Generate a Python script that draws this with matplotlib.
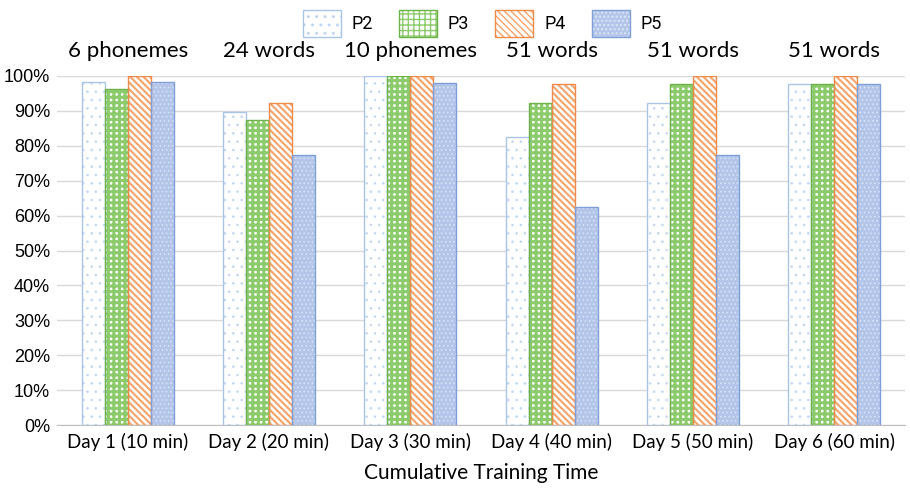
import matplotlib.pyplot as plt
import numpy as np
from matplotlib.patches import Patch
from matplotlib.ticker import PercentFormatter

days = ["Day 1 (10 min)", "Day 2 (20 min)", "Day 3 (30 min)",
        "Day 4 (40 min)", "Day 5 (50 min)", "Day 6 (60 min)"]
tasks = ["6 phonemes", "24 words", "10 phonemes", "51 words", "51 words", "51 words"]
names = ["P2", "P3", "P4", "P5"]

p2 = [98.3, 89.6, 100.0, 82.4, 92.2, 97.6]
p3 = [96.3, 87.3, 100.0, 92.2, 97.6, 97.6]
p4 = [100.0, 92.2, 100.0, 97.6, 100.0, 100.0]
p5 = [98.3, 77.3, 98.0, 62.6, 77.3, 97.6]
series = [p2, p3, p4, p5]

# face, hatch, hatch colour, edge colour, hatch linewidth
styles = [
    ("white", "..", "#C3D6F0", "#A9C6EA", 0.6),
    ("white", "+++", "#8CCB6C", "#6DB34A", 2.2),
    ("white", "\\\\\\\\\\", "#F5A36B", "#EE8A4A", 1.5),
    ("#B3C6EA", "....", "#DCE5F6", "#7E9FD8", 0.6),
]

fig, ax = plt.subplots(figsize=(9.1, 4.91), dpi=100)
fig.subplots_adjust(left=57 / 910, right=905 / 910, top=1 - 76 / 491, bottom=1 - 425 / 491)

x = np.arange(len(days))
w = 0.163
offsets = np.array([-1.5, -0.5, 0.5, 1.5]) * w

for vals, off, (fc, hatch, hc, ec, hlw) in zip(series, offsets, styles):
    with plt.rc_context({"hatch.linewidth": hlw}):
        bars = ax.bar(x + off, vals, w, color=fc, hatch=hatch, edgecolor=hc,
                      linewidth=0, zorder=2)
        for b in bars:
            if hasattr(b, "set_hatch_linewidth"):
                b.set_hatch_linewidth(hlw)
    ax.bar(x + off, vals, w, facecolor="none", edgecolor=ec, linewidth=1.0, zorder=3)

ax.set_xlim(-0.5, len(days) - 0.5)
ax.set_ylim(0, 100)
ax.set_yticks(np.arange(0, 101, 10))
ax.yaxis.set_major_formatter(PercentFormatter(decimals=0))
ax.set_xticks(x)
ax.set_xticklabels(days, fontsize=13.5, family="Lato")
ax.tick_params(axis="y", labelsize=13, length=0, pad=5)
ax.tick_params(axis="x", length=0, pad=6)
for lab in ax.get_yticklabels():
    lab.set_family("Liberation Sans")

ax.grid(axis="y", color="#D9D9D9", linewidth=1, zorder=0)
for s in ["top", "right", "left"]:
    ax.spines[s].set_visible(False)
ax.spines["bottom"].set_color("#BFBFBF")

for i, t in enumerate(tasks):
    ax.text(i, 104.3, t, ha="center", va="bottom", fontsize=16, family="Lato")

ax.set_xlabel("Cumulative Training Time", fontsize=15, family="Lato", labelpad=8)

handles = []
for fc, hatch, hc, ec, hlw in styles:
    h1 = Patch(facecolor=fc, hatch=hatch, edgecolor=hc, linewidth=0)
    h2 = Patch(facecolor="none", edgecolor=ec, linewidth=1.0)
    handles.append((h1, h2))
leg = fig.legend(handles, names, loc="upper center", bbox_to_anchor=(0.53, 1.012),
                 ncol=4, frameon=False, handlelength=2.1, handleheight=1.9,
                 columnspacing=1.45, handletextpad=0.6,
                 prop={"family": "Roboto", "size": 13})

fig.savefig("out.png", dpi=100)
